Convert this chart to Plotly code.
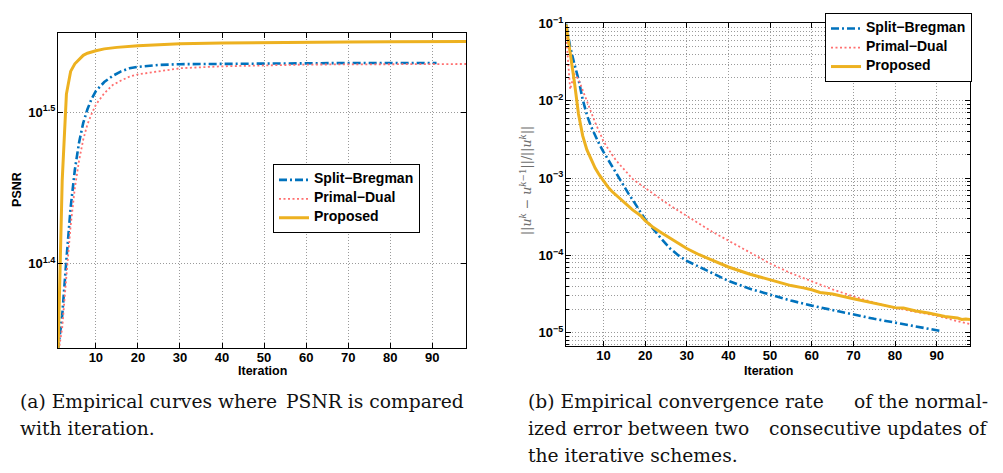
import plotly.graph_objects as go

PAGE_W, PAGE_H = 1003, 473
OFF = 8  # default body margin of the page
W, H = PAGE_W - 2 * OFF, PAGE_H - 2 * OFF

# ---------------- data: (a) PSNR vs iteration ----------------
psnr_iter_sb = [1, 2, 3, 4, 5, 6, 7, 8, 9, 10, 12, 14, 16, 18, 20, 25, 30, 40, 50, 60, 70, 80, 91]
psnr_sb = [22.03, 23.23, 25.29, 27.35, 28.97, 30.20, 31.12, 31.77, 32.28, 32.66, 33.11, 33.42,
           33.65, 33.81, 33.88, 33.98, 34.02, 34.04, 34.06, 34.07, 34.08, 34.08, 34.08]

psnr_iter_pd = [1, 2, 3, 4, 5, 6, 7, 8, 9, 10, 12, 14, 16, 18, 20, 25, 30, 40, 50, 60, 70, 80, 98]
psnr_pd = [21.88, 22.80, 24.66, 26.61, 28.18, 29.38, 30.34, 31.05, 31.55, 31.99, 32.55, 32.96,
           33.19, 33.38, 33.50, 33.65, 33.81, 33.91, 33.96, 34.00, 34.01, 34.02, 34.03]

psnr_iter_prop = [1, 2, 3, 4, 5, 6, 7, 8, 9, 10, 12, 15, 20, 25, 30, 40, 50, 60, 70, 80, 98]
psnr_prop = [21.88, 28.51, 32.51, 33.65, 34.04, 34.28, 34.48, 34.59, 34.67, 34.72, 34.82, 34.90,
             34.99, 35.05, 35.09, 35.13, 35.16, 35.17, 35.19, 35.20, 35.21]

# ---------------- data: (b) normalized error vs iteration ----------------
err_iter_sb = [1, 2, 3, 4, 5, 6, 7, 8, 9, 10, 11, 12, 13, 14, 15, 16, 17, 18, 19, 20, 22, 24, 26,
               28, 30, 35, 40, 45, 50, 55, 60, 65, 70, 75, 80, 85, 91]
err_sb = [0.1, 0.0501, 0.0302, 0.0191, 0.01047, 6.61e-3, 4.68e-3, 3.55e-3, 2.75e-3, 2.19e-3,
          1.78e-3, 1.41e-3, 1.17e-3, 9.55e-4, 7.76e-4, 6.31e-4, 5.25e-4, 4.27e-4, 3.55e-4,
          2.95e-4, 2.16e-4, 1.62e-4, 1.23e-4, 1.0e-4, 8.51e-5, 6.31e-5, 4.68e-5, 3.72e-5,
          3.09e-5, 2.60e-5, 2.24e-5, 1.95e-5, 1.70e-5, 1.51e-5, 1.35e-5, 1.20e-5, 1.05e-5]

err_iter_pd = [1, 2, 3, 4, 5, 6, 7, 8, 9, 10, 11, 12, 13, 14, 15, 16, 17, 18, 19, 20, 22, 24, 26,
               28, 30, 33, 36, 40, 45, 50, 55, 60, 65, 70, 75, 80, 85, 90, 95, 98]
err_pd = [0.0759, 0.0141, 0.0224, 0.0191, 0.0138, 0.0100, 7.08e-3, 5.25e-3, 3.98e-3, 3.02e-3,
          2.45e-3, 2.0e-3, 1.70e-3, 1.48e-3, 1.29e-3, 1.12e-3, 9.77e-4, 8.91e-4, 8.13e-4,
          7.41e-4, 6.24e-4, 5.25e-4, 4.42e-4, 3.76e-4, 3.24e-4, 2.57e-4, 2.04e-4, 1.55e-4,
          1.08e-4, 7.85e-5, 5.89e-5, 4.57e-5, 3.63e-5, 2.95e-5, 2.45e-5, 2.09e-5, 1.86e-5,
          1.66e-5, 1.41e-5, 1.29e-5]

err_iter_prop = [1, 2, 3, 4, 5, 6, 7, 8, 9, 10, 11, 12, 13, 14, 15, 16, 17, 18, 19, 20, 22, 24,
                 26, 28, 30, 33, 36, 40, 45, 50, 55, 58, 60, 62, 65, 70, 75, 78, 80, 82, 85, 88,
                 90, 92, 95, 96, 97, 98]
err_prop = [0.0977, 0.0447, 0.0178, 6.76e-3, 3.55e-3, 2.34e-3, 1.74e-3, 1.35e-3, 1.10e-3,
            9.12e-4, 7.76e-4, 6.76e-4, 6.03e-4, 5.37e-4, 4.79e-4, 4.37e-4, 3.89e-4, 3.55e-4,
            3.24e-4, 2.82e-4, 2.29e-4, 1.95e-4, 1.66e-4, 1.41e-4, 1.23e-4, 1.02e-4, 8.71e-5,
            7.08e-5, 5.75e-5, 4.79e-5, 4.07e-5, 3.80e-5, 3.59e-5, 3.31e-5, 3.16e-5, 2.75e-5,
            2.40e-5, 2.19e-5, 2.11e-5, 2.09e-5, 1.91e-5, 1.80e-5, 1.72e-5, 1.62e-5, 1.55e-5,
            1.48e-5, 1.50e-5, 1.48e-5]

names = ["Split\u2212Bregman", "Primal\u2212Dual", "Proposed"]
x_ticks = [10, 20, 30, 40, 50, 60, 70, 80, 90]
psnr_tickvals = [10 ** 1.4, 10 ** 1.5]
psnr_ticktext = ["10<sup>1.4</sup>", "10<sup>1.5</sup>"]
err_tickvals = [1e-5, 1e-4, 1e-3, 1e-2, 1e-1]
err_ticktext = ["10<sup>\u22125</sup>", "10<sup>\u22124</sup>", "10<sup>\u22123</sup>",
                "10<sup>\u22122</sup>", "10<sup>\u22121</sup>"]
err_minor = [m * 10.0 ** e for e in range(-6, -1) for m in range(2, 10)]

# ---------------- styles ----------------
BLUE = "#0072BD"
RED = "#FF7070"
ORANGE = "#EDB120"
styles = [
    dict(color=BLUE, width=2.6, dash="8px,3px,2px,3px"),
    dict(color=RED, width=1.8, dash="2px,2.5px"),
    dict(color=ORANGE, width=3),
]
FONT = "Liberation Sans"
GRID = "#9a9a9a"


def legend_label(s):
    # larger glyphs than the legend font so the rows stay as tight as the original
    return '<span style="font-size:14px">' + s + "</span>"


fig = go.Figure()
for nm, xs, ys, st in zip(names, [psnr_iter_sb, psnr_iter_pd, psnr_iter_prop],
                          [psnr_sb, psnr_pd, psnr_prop], styles):
    fig.add_trace(go.Scatter(x=xs, y=ys, mode="lines", name=legend_label(nm), line=st,
                             xaxis="x", yaxis="y", legend="legend"))
for nm, xs, ys, st in zip(names, [err_iter_sb, err_iter_pd, err_iter_prop],
                          [err_sb, err_pd, err_prop], styles):
    fig.add_trace(go.Scatter(x=xs, y=ys, mode="lines", name=legend_label(nm), line=st,
                             xaxis="x2", yaxis="y2", legend="legend2"))


def px_x(p):
    return (p - OFF) / W


def px_y(p):
    return 1 - (p - OFF) / H


tickfont = dict(family=FONT, size=13, color="black", weight="bold")
common = dict(showline=True, linecolor="black", linewidth=1, mirror="allticks",
              ticks="inside", ticklen=5, tickcolor="black", tickfont=tickfont,
              showgrid=True, gridcolor=GRID, griddash="1px,2px", gridwidth=1,
              zeroline=False)
legend_common = dict(xanchor="left", yanchor="top", bgcolor="white", bordercolor="black",
                     borderwidth=1, itemwidth=30, tracegroupgap=0,
                     font=dict(family=FONT, size=9, color="black", weight="bold"))

fig.update_layout(
    width=W, height=H, margin=dict(l=0, r=0, t=0, b=0),
    paper_bgcolor="white", plot_bgcolor="white",
    xaxis=dict(domain=[px_x(58), px_x(466)], anchor="y", range=[1, 98],
               tickmode="array", tickvals=x_ticks, ticklabelstandoff=-3, **common),
    yaxis=dict(domain=[px_y(346), px_y(25)], anchor="x", type="log",
               range=[1.3445, 1.5525], tickmode="array", tickvals=psnr_tickvals,
               ticktext=psnr_ticktext, ticklabelstandoff=-1, **common),
    xaxis2=dict(domain=[px_x(566), px_x(970)], anchor="y2", range=[1, 98],
                tickmode="array", tickvals=x_ticks, ticklabelstandoff=-3, **common),
    yaxis2=dict(domain=[px_y(344), px_y(15)], anchor="x2", type="log",
                range=[-5.174, -0.99], tickmode="array", tickvals=err_tickvals,
                ticktext=err_ticktext, ticklabelstandoff=-1, ticklabeloverflow="allow",
                minor=dict(tickmode="array", tickvals=err_minor, ticks="inside",
                           ticklen=3, tickcolor="black", showgrid=True,
                           gridcolor=GRID, griddash="1px,2px", gridwidth=1),
                **common),
    legend=dict(x=px_x(273), y=px_y(159), **legend_common),
    legend2=dict(x=px_x(825), y=px_y(5), **legend_common),
    showlegend=True,
)

bold12 = dict(family=FONT, size=12.5, color="black", weight="bold")
ann = [
    dict(text="PSNR", x=px_x(17), y=px_y(185), textangle=-90, font=bold12),
    dict(text="Iteration", x=px_x(262), y=px_y(369), font=bold12),
    dict(text="Iteration", x=px_x(768), y=px_y(369), font=bold12),
    dict(text="||<i>u</i><sup><i>k</i></sup> \u2212 <i>u</i><sup><i>k</i>\u22121</sup>||/||<i>u</i><sup><i>k</i></sup>||",
         x=px_x(526), y=px_y(176), textangle=-90,
         font=dict(family="DejaVu Serif", size=12.5, color="#6e6e6e")),
]
cap_font = dict(family="DejaVu Serif", size=18.7, color="#111111")
# caption lines: (text chunks, left px, right px or None, centre y px); justified lines are
# set as two chunks, one flush left and one flush right
captions = [
    (("(a) Empirical curves where", "PSNR is compared"), 18, 466, 400),
    (("with iteration.",), 18, None, 428),
    (("(b) Empirical convergence rate", "of the normal-"), 526, 990, 400),
    (("ized error between two", "consecutive updates of"), 526, 990, 428),
    (("the iterative schemes.",), 526, None, 455),
]
for parts, xl, xr, yy in captions:
    ann.append(dict(text=parts[0], x=px_x(xl), y=px_y(yy), xanchor="left", font=cap_font))
    if len(parts) > 1:
        ann.append(dict(text=parts[1], x=px_x(xr), y=px_y(yy), xanchor="right", font=cap_font))

for a in ann:
    a.setdefault("xanchor", "center")
    a.update(xref="paper", yref="paper", yanchor="middle", showarrow=False)
fig.update_layout(annotations=ann)

fig.write_html("out.html")
